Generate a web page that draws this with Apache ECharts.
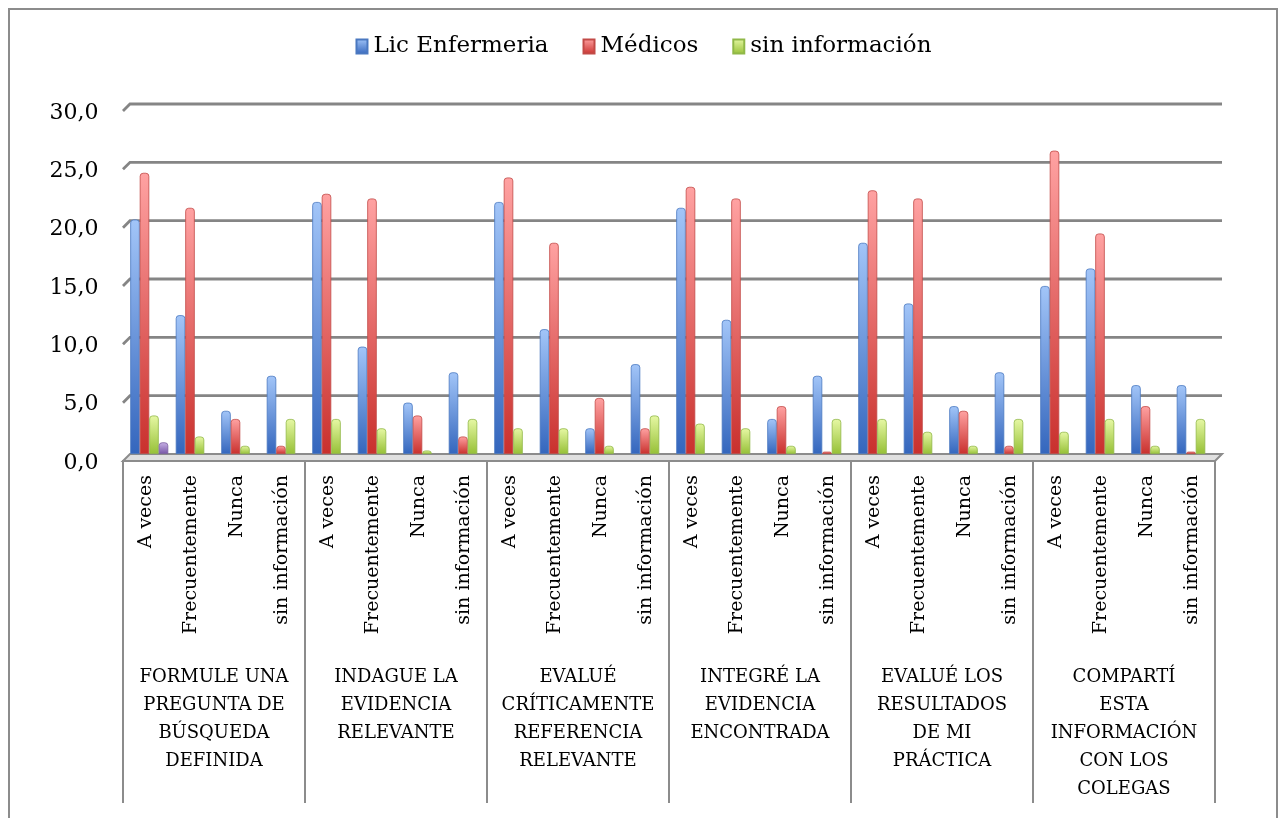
<!DOCTYPE html>
<html>
<head>
<meta charset="utf-8">
<script src="https://cdn.jsdelivr.net/npm/echarts@6/dist/echarts.min.js"></script>
<style>
html,body{margin:0;padding:0;background:#fff;}
#chart{width:1287px;height:818px;}
</style>
</head>
<body>
<div id="chart"></div>
<script>
// ---- data ----
var subCategories = ['A veces','Frecuentemente','Nunca','sin información'];
var groups = [
  'FORMULE UNA\nPREGUNTA DE\nBÚSQUEDA\nDEFINIDA',
  'INDAGUE LA\nEVIDENCIA\nRELEVANTE',
  'EVALUÉ\nCRÍTICAMENTE\nREFERENCIA\nRELEVANTE',
  'INTEGRÉ LA\nEVIDENCIA\nENCONTRADA',
  'EVALUÉ LOS\nRESULTADOS\nDE MI\nPRÁCTICA',
  'COMPARTÍ\nESTA\nINFORMACIÓN\nCON LOS\nCOLEGAS'
];
var seriesNames = ['Lic Enfermeria','Médicos','sin información'];
var licEnfermeria = [20.1, 11.9, 3.7, 6.7,  21.6, 9.2, 4.4, 7.0,  21.6, 10.7, 2.2, 7.7,  21.1, 11.5, 3.0, 6.7,  18.1, 12.9, 4.1, 7.0,  14.4, 15.9, 5.9, 5.9];
var medicos       = [24.1, 21.1, 3.0, 0.7,  22.3, 21.9, 3.3, 1.5,  23.7, 18.1, 4.8, 2.2,  22.9, 21.9, 4.1, 0.2,  22.6, 21.9, 3.7, 0.7,  26.0, 18.9, 4.1, 0.2];
var sinInformacion= [3.3, 1.5, 0.7, 3.0,   3.0, 2.2, 0.3, 3.0,   2.2, 2.2, 0.7, 3.3,   2.6, 2.2, 0.7, 3.0,   3.0, 1.9, 0.7, 3.0,   1.9, 3.0, 0.7, 3.0];
var otros         = [1.0, null, null, null, null, null, null, null, null, null, null, null, null, null, null, null, null, null, null, null, null, null, null, null];
var yTicks = [0, 5, 10, 15, 20, 25, 30];

var categories = [];
groups.forEach(function(){ subCategories.forEach(function(s){ categories.push(s); }); });

var FONT = 'DejaVu Serif';
function grad(top, bottom){
  return {type:'linear', x:0, y:0, x2:0, y2:1, colorStops:[{offset:0,color:top},{offset:1,color:bottom}]};
}
function barSeries(name, data, top, bottom, border){
  return {
    name: name, type: 'bar', xAxisIndex: 0, yAxisIndex: 0,
    data: data, barWidth: 9.5, barGap: '0%', z: 3,
    itemStyle: {color: grad(top, bottom), borderColor: border, borderWidth: 0.8, borderRadius: [3,3,0,0]}
  };
}

var chart = echarts.init(document.getElementById('chart'), null, {renderer: 'canvas'});
var DEPTH = 3.5;
var option = {
  animation: false,
  backgroundColor: '#fff',
  graphic: [{type:'rect', shape:{x:9, y:9, width:1268, height:830}, style:{fill:'none', stroke:'#8c8c8c', lineWidth:2}, silent:true}],
  legend: {
    data: seriesNames, top: 30, left: 'center', itemWidth: 11, itemHeight: 14, itemGap: 34,
    icon: 'rect',
    textStyle: {fontFamily: FONT, fontSize: 23, color: '#000', padding: [0,0,0,1]}
  },
  grid: [
    {left: 126.5, width: 1092, top: 104, height: 350, containLabel: false},
    {left: 123, width: 1092, top: 104, height: 356, containLabel: false}
  ],
  xAxis: [
    {type:'category', gridIndex:0, data: categories, boundaryGap:true,
     axisLine:{show:false}, axisTick:{show:false}, axisLabel:{show:false}},
    {type:'category', gridIndex:1, data: categories, boundaryGap:true, position:'bottom',
     axisLine:{show:false}, axisTick:{show:false},
     axisLabel:{interval:0, rotate:90, margin:15, fontFamily:FONT, fontSize:19, color:'#000'}},
    {type:'category', gridIndex:1, data: groups, boundaryGap:true, position:'bottom',
     axisLine:{show:false},
     axisTick:{show:true, interval:0, length:343, lineStyle:{color:'#8c8c8c', width:2}},
     axisLabel:{interval:0, margin:203, fontFamily:FONT, fontSize:18, lineHeight:28, color:'#000', align:'center', verticalAlign:'top'}}
  ],
  yAxis: [
    {type:'value', gridIndex:0, min:0, max:30, interval:5,
     axisLine:{show:false}, axisTick:{show:false}, splitLine:{show:false},
     axisLabel:{margin:28, fontFamily:FONT, fontSize:22, color:'#000', verticalAlign:'top', lineHeight:18,
       formatter:function(v){ return v.toFixed(1).replace('.', ','); }}},
    {type:'value', gridIndex:1, min:0, max:1, show:false}
  ],
  series: [
    {
      type:'custom', xAxisIndex:0, yAxisIndex:0, z:1, silent:true,
      data: yTicks.map(function(v){ return [0, v]; }),
      encode: {x:0, y:1},
      renderItem: function(params, api){
        var cs = params.coordSys;
        var v = api.value(1);
        var y = api.coord([0, v])[1];
        var xf = cs.x - DEPTH, xb = cs.x + DEPTH, xe = cs.x + cs.width + DEPTH;
        var children = [];
        if (v === 0) {
          children.push({type:'polygon', shape:{points:[[xf, y + 2*DEPTH],[xb, y],[xe, y],[xe - 2*DEPTH, y + 2*DEPTH]]},
            style:{fill:'#e0e0e0', stroke:'#8c8c8c', lineWidth:2}});
        } else {
          children.push({type:'polyline', shape:{points:[[xf, y + 2*DEPTH],[xb, y],[xe, y]]},
            style:{fill:null, stroke:'#858585', lineWidth:2.8}});
        }
        return {type:'group', children: children};
      }
    },
    barSeries(seriesNames[0], licEnfermeria, '#a2c5f8', '#3466bd', '#4a78c0'),
    barSeries(seriesNames[1], medicos, '#ffa2a2', '#c9302d', '#c24a47'),
    barSeries(seriesNames[2], sinInformacion, '#e6f8a4', '#96c036', '#90b848'),
    barSeries('Otros', otros, '#c8b2e6', '#7655a6', '#7a60a0')
  ]
};
chart.setOption(option);
</script>
</body>
</html>
